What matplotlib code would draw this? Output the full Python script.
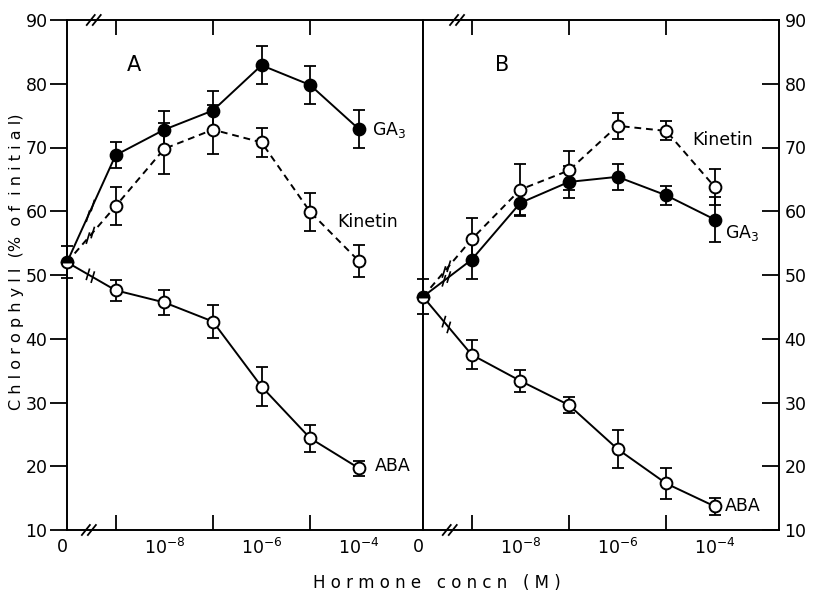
import matplotlib
matplotlib.use('Agg')
import matplotlib.pyplot as plt
import matplotlib.transforms as mtransforms
from matplotlib.lines import Line2D

plt.rcParams['font.family'] = ['DejaVu Sans']

# ---------------- data ----------------
log_conc = [-9, -8, -7, -6, -5, -4]       # log10 hormone concentration (M)
zero_pos = -10                              # position used for the 0 (control) point
xtick_pos = [-10, -8, -6, -4]
xtick_labels = ['0', '$10^{-8}$', '$10^{-6}$', '$10^{-4}$']
minor_xticks = [-9, -8, -7, -6, -5, -4]
yticks = [10, 20, 30, 40, 50, 60, 70, 80, 90]

# Panel A
ctrl_A = 52.0
ctrl_A_err = 2.5
ga3_A = [68.8, 72.8, 75.8, 82.9, 79.8, 72.9]
ga3_A_err = [2.0, 3.0, 3.0, 3.0, 3.0, 3.0]
kin_A = [60.8, 69.8, 72.8, 70.8, 59.9, 52.2]
kin_A_err = [3.0, 4.0, 3.8, 2.3, 3.0, 2.5]
aba_A = [47.6, 45.7, 42.7, 32.5, 24.4, 19.7]
aba_A_err = [1.6, 2.0, 2.6, 3.0, 2.1, 1.2]

# Panel B
ctrl_B = 46.6
ctrl_B_err = 2.7
ga3_B = [52.4, 61.3, 64.6, 65.4, 62.5, 58.7]
ga3_B_err = [3.0, 2.0, 2.5, 2.0, 1.5, 3.6]
kin_B = [55.6, 63.4, 66.4, 73.4, 72.6, 63.8]
kin_B_err = [3.3, 4.0, 3.0, 2.0, 1.5, 2.8]
aba_B = [37.5, 33.4, 29.6, 22.7, 17.3, 13.7]
aba_B_err = [2.3, 1.7, 1.3, 3.0, 2.4, 1.3]

# ---------------- figure ----------------
W, H = 821, 599
fig = plt.figure(figsize=(W / 100, H / 100), dpi=100)
x0, xm, x1 = 67, 423, 779
ytop, ybot = 20, 530
axA = fig.add_axes([x0 / W, 1 - ybot / H, (xm - x0) / W, (ybot - ytop) / H])
axB = fig.add_axes([xm / W, 1 - ybot / H, (x1 - xm) / W, (ybot - ytop) / H])

XLIM = (-10, -2.68)
FS = 12.5
LW = 1.4
MS = 8.5
CAP = 4.5

for ax in (axA, axB):
    ax.set_xlim(*XLIM)
    ax.set_ylim(10, 90)
    for sp in ax.spines.values():
        sp.set_linewidth(1.4)
    ax.set_xticks(minor_xticks, minor=True)
    ax.set_xticks(xtick_pos)
    ax.set_xticklabels(xtick_labels, fontsize=FS)
    ax.tick_params(axis='x', which='major', length=0, pad=6)
    ax.tick_params(axis='x', which='minor', direction='in', length=11, width=1.3,
                   top=True, bottom=True)
    ax.set_yticks(yticks)
    lab0 = ax.get_xticklabels()[0]
    lab0.set_transform(lab0.get_transform() +
                       mtransforms.ScaledTranslation(-5 / 100, 0, fig.dpi_scale_trans))

axA.tick_params(axis='y', direction='out', length=12, width=1.3, labelsize=FS, pad=2)
axB.yaxis.tick_right()
axB.tick_params(axis='y', direction='in', length=12, width=1.3, labelsize=FS, pad=4,
                left=False, right=True)


def series(ax, ctrl, ctrl_err, vals, errs, filled, dashed, ctrl_marker=False):
    xs = [zero_pos] + log_conc
    ys = [ctrl] + vals
    ls = (0, (3.5, 2.5)) if dashed else '-'
    ax.plot(xs, ys, color='black', lw=LW, ls=ls, zorder=2, clip_on=False)
    ax.errorbar(log_conc, vals, yerr=errs, fmt='none', ecolor='black',
                elinewidth=1.3, capsize=CAP, capthick=1.3, zorder=2)
    ax.plot(log_conc, vals, ls='none', marker='o', ms=MS,
            mfc='black' if filled else 'white', mec='black', mew=1.4, zorder=4)
    if ctrl_marker:
        ax.errorbar([zero_pos], [ctrl], yerr=[ctrl_err], fmt='none', ecolor='black',
                    elinewidth=1.3, capsize=CAP, capthick=1.3, zorder=2, clip_on=False)
        ax.plot([zero_pos], [ctrl], ls='none', marker='o', ms=MS, fillstyle='top',
                mfc='black', mfcalt='white', mec='black', mew=1.4, zorder=5, clip_on=False)
    # break marks on the connecting segment
    fig.canvas.draw()
    p0 = ax.transData.transform((zero_pos, ctrl))
    p1 = ax.transData.transform((log_conc[0], vals[0]))
    inv = fig.transFigure.inverted()
    for frac in (0.43, 0.53):
        cx = p0[0] + frac * (p1[0] - p0[0])
        cy = p0[1] + frac * (p1[1] - p0[1])
        a = inv.transform([(cx - 1.5, cy - 5), (cx + 1.5, cy + 5)])
        fig.add_artist(Line2D(a[:, 0], a[:, 1], color='black', lw=1.2, zorder=6))


series(axA, ctrl_A, ctrl_A_err, ga3_A, ga3_A_err, True, False)
series(axA, ctrl_A, ctrl_A_err, kin_A, kin_A_err, False, True)
series(axA, ctrl_A, ctrl_A_err, aba_A, aba_A_err, False, False, ctrl_marker=True)

series(axB, ctrl_B, ctrl_B_err, kin_B, kin_B_err, False, True)
series(axB, ctrl_B, ctrl_B_err, ga3_B, ga3_B_err, True, False)
series(axB, ctrl_B, ctrl_B_err, aba_B, aba_B_err, False, False, ctrl_marker=True)

# axis break marks on bottom / top spines
fig.canvas.draw()
inv = fig.transFigure.inverted()
for ax, bx, tx in ((axA, -9.55, -9.45), (axB, -9.45, -9.3)):
    for xb, yax in ((bx, 0), (tx, 1)):
        px, py = ax.transAxes.transform((0, yax))
        px = ax.transData.transform((xb, 50))[0]
        for dx in (-3, 3):
            a = inv.transform([(px + dx - 4, py - 5), (px + dx + 4, py + 5)])
            fig.add_artist(Line2D(a[:, 0], a[:, 1], color='black', lw=1.3, zorder=6))

# text labels
axA.text(-8.77, 83, 'A', fontsize=15, va='center', ha='left')
axB.text(-8.52, 83, 'B', fontsize=15, va='center', ha='left')
axA.text(-3.72, 72.7, 'GA$_3$', fontsize=FS, va='center', ha='left')
axA.text(-4.44, 58.3, 'Kinetin', fontsize=FS, va='center', ha='left')
axA.text(-3.67, 20.0, 'ABA', fontsize=FS, va='center', ha='left')
axB.text(-4.46, 71.2, 'Kinetin', fontsize=FS, va='center', ha='left')
axB.text(-3.80, 56.6, 'GA$_3$', fontsize=FS, va='center', ha='left')
axB.text(-3.80, 13.8, 'ABA', fontsize=FS, va='center', ha='left')

fig.text(17 / W, 1 - 262 / H, 'C h l o r o p h y l l  (%  o f  i n i t i a l)', rotation=90,
         fontsize=11.5, va='center', ha='center')
fig.text(437 / W, 1 - 583 / H, 'H o r m o n e   c o n c n   ( M )',
         fontsize=12, va='center', ha='center')

fig.savefig('out.png', dpi=100)
